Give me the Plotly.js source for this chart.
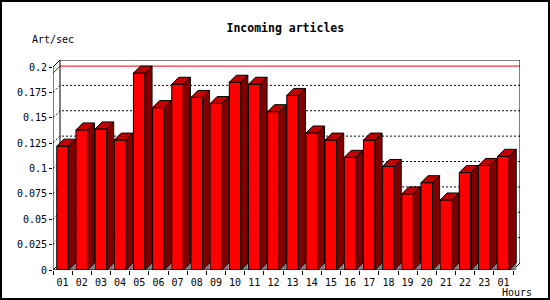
<!DOCTYPE html>
<html>
<head>
<meta charset="utf-8">
<script src="https://cdn.plot.ly/plotly-3.0.1.min.js"></script>
<style>
html,body{margin:0;padding:0;background:#fff;}
#wrap{position:relative;width:550px;height:300px;}
#chart{width:550px;height:300px;}
#frame{position:absolute;left:0;top:0;width:550px;height:300px;box-sizing:border-box;border:2px solid #000;pointer-events:none;}
</style>
</head>
<body>
<div id="wrap"><div id="chart"></div><div id="frame"></div></div>
<script>
// ---- data ----
const hours = ['01','02','03','04','05','06','07','08','09','10','11','12','13','14','15','16','17','18','19','20','21','22','23','01'];
const rates = [0.122,0.138,0.139,0.128,0.194,0.160,0.183,0.170,0.164,0.185,0.183,0.156,0.172,0.135,0.128,0.111,0.128,0.102,0.075,0.086,0.069,0.096,0.103,0.112];
const yTickVals = [0,0.025,0.05,0.075,0.1,0.125,0.15,0.175,0.2];
const yTickText = ['0','0.025','0.05','0.075','0.1','0.125','0.15','0.175','0.2'];
const titleText = 'Incoming articles';
const yLabel = 'Art/sec';
const xLabel = 'Hours';

// ---- geometry (3D look) ----
const M = {l:53, r:30, t:60, b:30};
const plotW = 550 - M.l - M.r, plotH = 300 - M.t - M.b;
const depth = 7;                         // px
const n = hours.length;
const pxX = (plotW - depth) / n;
const dxu = depth / pxX;
const yTop = 0.2;
const pxY = (plotH - depth) / yTop;
const dyu = depth / pxY;
const bw = 11.6 / pxX;
const idx = hours.map((_, i) => i);
const xs = -0.5, xe = n - 0.5;

// polygons for top faces, side faces, floor shadows
const topX = [], topY = [], sideX = [], sideY = [], shX = [], shY = [];
idx.forEach(i => {
  const v = rates[i], L = i - bw/2, R = i + bw/2;
  topX.push(L, R, R+dxu, L+dxu, L, null);
  topY.push(v, v, v+dyu, v+dyu, v, null);
  sideX.push(R, R+dxu, R+dxu, R, R, null);
  sideY.push(0, dyu, v+dyu, v, 0, null);
  shX.push(R, R+dxu, R+dxu, R, null);
  shY.push(0, dyu, 0, 0, null);
});

const traces = [
  {type:'bar', x:idx, y:rates, width:bw, marker:{color:'#ff0000', line:{color:'#000', width:1}},
   cliponaxis:false, hoverinfo:'skip'},
  {type:'scatter', mode:'lines', x:shX, y:shY, fill:'toself', fillcolor:'#808080',
   line:{width:0, color:'rgba(0,0,0,0)'}, cliponaxis:false, hoverinfo:'skip'},
  {type:'scatter', mode:'lines', x:sideX, y:sideY, fill:'toself', fillcolor:'#800000',
   line:{width:1, color:'#000'}, cliponaxis:false, hoverinfo:'skip'},
  {type:'scatter', mode:'lines', x:topX, y:topY, fill:'toself', fillcolor:'#c00000',
   line:{width:1, color:'#000'}, cliponaxis:false, hoverinfo:'skip'}
];

const shapes = [];
const line = (path, color, dash, layer) => shapes.push({type:'path', path, xref:'x', yref:'y',
  line:{color, width:1, dash}, layer});
// grid lines: left wall diagonal + back wall horizontal
yTickVals.filter(v => v > 0 && v < yTop).forEach(v => {
  line(`M${xs},${v} L${xs+dxu},${v+dyu} L${xe+dxu},${v+dyu}`, '#000', '2px,2px', 'below');
});
// max line
const vmax = Math.max(...rates);
line(`M${xs},${vmax} L${xs+dxu},${vmax+dyu} L${xe+dxu},${vmax+dyu}`, '#ff0000', 'solid', 'below');
// back frame
line(`M${xs},0 L${xs+dxu},${dyu} L${xs+dxu},${yTop+dyu} L${xe+dxu},${yTop+dyu} L${xe+dxu},${dyu} L${xe},0`, '#000', 'solid', 'below');
// front axes
line(`M${xs+dxu},${yTop+dyu} L${xs},${yTop} L${xs},0 L${xe},0`, '#000', 'solid', 'above');

const layout = {
  width:550, height:300, margin:M, paper_bgcolor:'#fff', plot_bgcolor:'#fff',
  showlegend:false, barmode:'overlay',
  font:{family:'DejaVu Sans Mono', size:10, color:'#000'},
  title:{text:'<b>'+titleText+'</b>', font:{family:'DejaVu Sans Mono', size:11.5, color:'#000'},
         x:273.6/550, xanchor:'center', xref:'paper', yref:'container', y:1-28/300, yanchor:'middle'},
  xaxis:{range:[xs, xe+dxu], tickmode:'array', tickvals:idx, ticktext:hours, ticks:'',
         ticklabelstandoff:5,
         showgrid:false, zeroline:false, showline:false, fixedrange:true,
         tickfont:{family:'DejaVu Sans Mono', size:10, color:'#000'},
         minor:{tickmode:'array', tickvals:idx.concat([n]).map(i => i-0.5), ticks:'outside', ticklen:4, tickcolor:'#000', tickwidth:1, showgrid:false}},
  yaxis:{range:[0, yTop+dyu], tickmode:'array', tickvals:yTickVals, ticktext:yTickText, ticks:'outside',
         ticklen:3, tickcolor:'#000', showgrid:false, zeroline:false, showline:false, fixedrange:true,
         tickfont:{family:'DejaVu Sans Mono', size:10, color:'#000'}},
  shapes,
  annotations:[
    {text:yLabel, xref:'paper', yref:'paper', x:(29.8-M.l)/plotW, y:(300-M.b-39.5)/plotH, xanchor:'left', yanchor:'middle', showarrow:false,
     font:{family:'DejaVu Sans Mono', size:10, color:'#000'}},
    {text:xLabel, xref:'paper', yref:'paper', x:(533.5-M.l)/plotW, y:(300-M.b-292)/plotH, xanchor:'right', yanchor:'middle', showarrow:false,
     font:{family:'DejaVu Sans Mono', size:10, color:'#000'}}
  ]
};
Plotly.newPlot('chart', traces, layout, {displayModeBar:false, staticPlot:true});
</script>
</body>
</html>
